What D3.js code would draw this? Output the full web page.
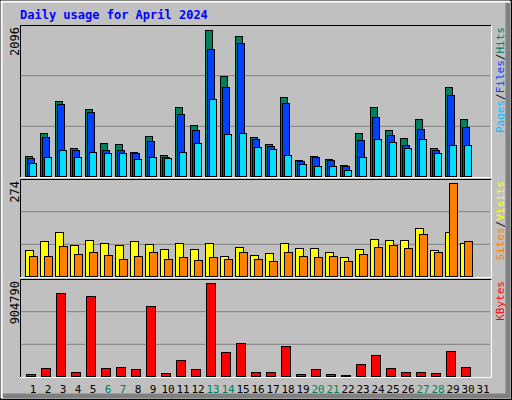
<!DOCTYPE html>
<html><head><meta charset="utf-8">
<script src="https://cdn.jsdelivr.net/npm/d3@7"></script>
<style>body{margin:0;background:#fff}</style>
</head><body><div id="chart"></div>
<script>
var days = d3.range(1, 32)
var weekend = [6, 7, 13, 14, 20, 21, 27, 28]
var hits = [285,613,1070,399,955,470,456,342,570,300,984,727,2096,1440,2011,556,456,1127,228,285,242,157,613,984,656,542,813,399,1269,813,0]
var files = [257,556,1027,371,913,371,371,328,499,271,884,656,1825,1269,1911,528,428,1041,214,271,228,143,513,841,585,442,670,371,1155,699,0]
var pages = [185,271,371,271,342,328,328,242,271,257,342,470,1098,599,613,414,385,299,171,143,143,86,271,528,485,399,528,328,442,442,0]
var visits = [78,105,129,93,108,99,93,105,96,81,99,81,99,60,87,63,69,99,84,84,72,57,81,111,108,108,143,78,129,99,0]
var sites = [60,60,90,66,72,63,51,60,72,51,57,48,57,51,72,51,45,72,60,57,60,43,66,87,93,84,123,72,274,105,0]
var kbytes = [23000,76000,809000,43000,786000,76000,86000,66000,687000,33000,155000,66000,904790,231000,320000,43000,43000,291000,23000,66000,23000,13000,122000,201000,76000,43000,43000,33000,241000,92000,0]

var W = 512, H = 400, font = "DejaVu Sans Mono, monospace"
var svg = d3.select("#chart").append("svg").attr("width", W).attr("height", H)

// frame with 3d edge
svg.append("rect").attr("width", W).attr("height", H).attr("fill", "#c0c0c0")
svg.append("rect").attr("x", 0.5).attr("y", 0.5).attr("width", W - 1).attr("height", H - 1).attr("fill", "none").attr("stroke", "#000")
svg.append("path").attr("d", "M1.5,398 V1.5 H510").attr("fill", "none").attr("stroke", "#fff").attr("stroke-width", 2)
svg.append("path").attr("d", "M508,3 V396 H3").attr("fill", "none").attr("stroke", "#808080").attr("stroke-width", 5)

svg.append("text").text("Daily usage for April 2024")
    .attr("x", 20).attr("y", 19).attr("fill", "#0000ff")
    .style("font", "bold 12px " + font)

var x = d3.scaleBand().domain(days).range([21, 486]).paddingInner(0)

function panel(y0, y1, max, maxLabel, series, labels) {
    var y = d3.scaleLinear().domain([0, max]).range([y1 - 1, y0 + 4 + (y1 - y0) * 0.005])
    var g = svg.append("g")
    g.append("rect").attr("x", 20).attr("y", y0).attr("width", 471).attr("height", y1 - y0).attr("fill", "#c0c0c0")
    g.selectAll("line.grid").data([1 / 3, 2 / 3]).enter().append("line")
        .attr("x1", 21).attr("x2", 490)
        .attr("y1", d => y0 + (y1 - y0) * d).attr("y2", d => y0 + (y1 - y0) * d)
        .attr("stroke", "#808080").attr("stroke-width", 1)
    series.forEach(function (s) {
        g.selectAll(null).data(s.values).enter().append("rect")
            .filter(d => d > 0)
            .attr("x", (d, i) => x(days[i]) + 4 + s.off + 0.5)
            .attr("y", d => Math.round(y(d)) + 0.5)
            .attr("width", s.w)
            .attr("height", d => Math.max(0, y1 - 1 - Math.round(y(d))))
            .attr("fill", s.color).attr("stroke", "#000")
    })
    g.append("path").attr("d", `M20.5,${y1} V${y0 + 0.5} H491`).attr("fill", "none").attr("stroke", "#000")
    g.append("path").attr("d", `M491.5,${y0 + 1} V${y1 + 0.5} H20`).attr("fill", "none").attr("stroke", "#fff")
    g.append("text").text(maxLabel)
        .attr("transform", `translate(19,${y0 + 2}) rotate(-90)`)
        .attr("text-anchor", "end").attr("fill", "#000")
        .style("font", "12px " + font)
    var t = g.append("text")
        .attr("transform", `translate(504,${y0 + 2}) rotate(-90)`)
        .attr("text-anchor", "end")
        .style("font", "11px " + font)
    labels.forEach(function (l) {
        t.append("tspan").text(l[0]).attr("fill", l[1])
    })
}

panel(25, 177, 2096, "2096", [
    { values: hits, color: "#00805c", off: 0, w: 7 },
    { values: files, color: "#0040ff", off: 2, w: 7 },
    { values: pages, color: "#00e0ff", off: 4, w: 7 }
], [["Pages", "#00c0ff"], ["/", "#000"], ["Files", "#0040ff"], ["/", "#000"], ["Hits", "#00805c"]])

panel(179, 277, 274, "274", [
    { values: visits, color: "#ffff00", off: 0, w: 8 },
    { values: sites, color: "#ff8000", off: 4, w: 8 }
], [["Sites", "#ff8000"], ["/", "#000"], ["Visits", "#ffff00"]])

panel(279, 377, 904790, "904790", [
    { values: kbytes, color: "#ff0000", off: 1, w: 9 }
], [["KBytes", "#ff0000"]])

svg.selectAll("text.day").data(days).enter().append("text")
    .attr("x", d => x(d) + 12).attr("y", 393)
    .attr("text-anchor", "middle")
    .attr("fill", d => weekend.includes(d) ? "#00805c" : "#000")
    .style("font", "11px " + font)
    .text(d => d)
</script></body></html>
